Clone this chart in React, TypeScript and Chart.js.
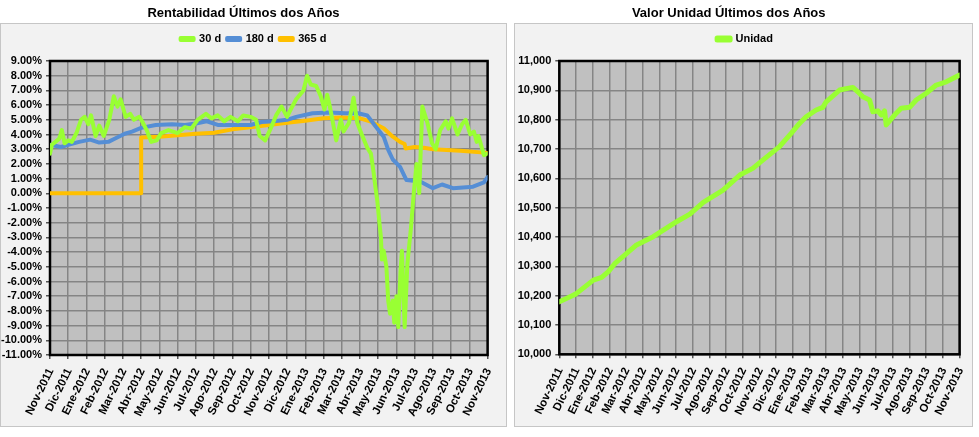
import React, { useEffect, useRef } from 'react';
import { Chart, registerables } from 'chart.js';

Chart.register(...registerables);

// ---------- DATA ----------
const monthLabels = [
  'Nov-2011', 'Dic-2011', 'Ene-2012', 'Feb-2012', 'Mar-2012', 'Abr-2012', 'May-2012',
  'Jun-2012', 'Jul-2012', 'Ago-2012', 'Sep-2012', 'Oct-2012', 'Nov-2012', 'Dic-2012',
  'Ene-2013', 'Feb-2013', 'Mar-2013', 'Abr-2013', 'May-2013', 'Jun-2013', 'Jul-2013',
  'Ago-2013', 'Sep-2013', 'Oct-2013', 'Nov-2013',
];

// position in months since Nov-2011, value in %
const r30X = [
  0.0, 0.1, 0.3, 0.5, 0.65, 0.8, 1.0, 1.2, 1.45, 1.7, 1.9, 2.1, 2.25, 2.5, 2.7, 2.95,
  3.25, 3.5, 3.7, 3.87, 4.15, 4.4, 4.6, 4.9, 5.05, 5.3, 5.55, 5.85, 6.1, 6.5, 7.0, 7.4,
  7.75, 8.1, 8.55, 8.85, 9.2, 9.55, 9.9, 10.3, 10.6, 11.0, 11.3, 11.5, 11.8, 12.1, 12.4,
  12.7, 13.0, 13.2, 13.5, 13.9, 14.1, 14.3, 14.6, 14.85, 15.05, 15.2, 15.35, 15.7, 15.95,
  16.1, 16.4, 16.65, 16.85, 17.1, 17.4, 17.6, 17.75, 17.85, 17.95, 18.05, 18.15, 18.2,
  18.3, 18.45, 18.55, 18.65, 18.8, 18.88, 19.0, 19.1, 19.22, 19.3, 19.45, 19.6, 19.8,
  19.95, 20.1, 20.25, 20.42, 20.7, 20.95, 21.15, 21.4, 21.7, 21.85, 22.05, 22.35, 22.6,
  22.8, 23.05, 23.25, 23.4, 23.5, 23.8, 24.0,
];
const r30Y = [
  2.7, 3.3, 3.5, 3.7, 4.3, 3.4, 3.6, 3.5, 4.1, 5.0, 5.2, 4.7, 5.3, 3.9, 4.6, 3.9,
  5.0, 6.6, 5.9, 6.4, 5.2, 5.4, 5.0, 5.2, 4.9, 4.3, 3.5, 3.6, 4.1, 4.3, 4.1, 4.5,
  4.4, 5.0, 5.4, 5.1, 5.3, 4.9, 5.2, 4.9, 5.3, 5.2, 5.0, 3.9, 3.6, 4.4, 5.3,
  5.9, 5.2, 5.7, 6.4, 7.0, 8.0, 7.4, 7.3, 6.6, 5.7, 6.7, 5.9, 3.6, 5.0,
  4.2, 4.8, 6.5, 4.8, 4.0, 3.1, 2.7, 1.4, 0.4, -0.5, -1.8, -3.0, -4.5,
  -3.9, -5.0, -7.3, -8.2, -7.3, -8.8, -7.0, -9.1, -5.4, -3.9, -9.1, -4.8, -2.3,
  0.0, 2.0, 0.0, 5.9, 4.8, 3.4, 3.0, 4.3, 4.9, 4.4, 5.1, 4.0, 4.7,
  5.0, 4.0, 4.2, 3.5, 3.9, 2.6, 2.7,
];

const r180X = [
  0, 0.6, 1.0, 1.6, 2.2, 2.7, 3.2, 3.6, 4.1, 4.5, 5.0, 5.8, 6.7, 7.4, 8.0, 8.6, 9.2,
  10.0, 11.0, 11.6, 12.3, 13.0, 13.5, 14.4, 15.3, 16.2, 16.9, 17.4, 17.8, 18.3, 18.55,
  18.8, 19.2, 19.45, 19.55, 20.3, 21.0, 21.5, 22.1, 23.2, 23.8, 24.0,
];
const r180Y = [
  3.3, 3.15, 3.3, 3.5, 3.65, 3.45, 3.5, 3.75, 4.05, 4.2, 4.45, 4.65, 4.7, 4.65, 4.75, 4.9, 4.65,
  4.65, 4.65, 4.85, 4.9, 5.0, 5.2, 5.45, 5.5, 5.45, 5.45, 5.3, 4.65, 3.85, 2.95,
  2.3, 1.8, 1.15, 0.9, 0.8, 0.35, 0.6, 0.35, 0.45, 0.75, 1.1,
];

const r365X = [
  0, 5.0, 5.0, 6.0, 7.0, 8.0, 9.0, 10.0, 11.0, 12.0, 13.0, 14.0, 15.0, 16.0, 17.0, 17.6,
  18.3, 18.8, 19.2, 19.45, 19.5, 20.0, 20.5, 21.0, 22.5, 24.0,
];
const r365Y = [
  0, 0, 3.8, 3.85, 3.95, 4.05, 4.12, 4.35, 4.5, 4.65, 4.8, 4.94, 5.1, 5.15, 5.1, 4.87,
  4.42, 3.85, 3.5, 3.35, 3.05, 3.15, 3.1, 3.0, 2.9, 2.75,
];

const unidadX = [
  0, 0.74, 1.0, 2.04, 2.54, 2.94, 3.34, 4.04, 4.63, 5.63, 7.03, 7.83, 8.63, 9.82, 10.82,
  11.6, 12.2, 13.2, 13.9, 14.4, 14.8, 15.4, 15.8, 16.0, 16.8, 17.6, 17.9, 18.2, 18.6,
  18.8, 19.1, 19.3, 19.5, 19.6, 20.2, 20.5, 21.0, 21.4, 22.0, 22.6, 23.2, 24.0,
];
const unidadY = [
  10179, 10199, 10206, 10253, 10262, 10282, 10310, 10344, 10373, 10401, 10452, 10478, 10518,
  10560, 10611, 10634, 10662, 10708, 10753, 10787, 10810, 10833, 10842, 10861, 10901, 10910,
  10895, 10878, 10867, 10827, 10830, 10816, 10830, 10782, 10822, 10839, 10842, 10867, 10890,
  10918, 10929, 10952,
];

// ---------- STYLE ----------
const GREEN = '#99ff33';
const BLUE = '#558ed5';
const ORANGE = '#ffc000';
const GRID = '#858585';
const FAMILY = '"Liberation Sans", Arial, Helvetica, sans-serif';
const tickFont = { family: FAMILY, size: 11, weight: 'bold' as const };
const xTickFont = { family: FAMILY, size: 11.5, weight: 'bold' as const };

const pairs = (xs: number[], ys: number[]) => xs.map((x, i) => ({ x, y: ys[i] }));

function panelPlugin(title: string, titleX: number, px0: number, px1: number) {
  return {
    id: 'panelDeco',
    beforeDraw(chart: any) {
      const ctx = chart.ctx;
      const a = chart.chartArea;
      ctx.save();
      ctx.fillStyle = '#ffffff';
      ctx.fillRect(0, 0, chart.width, chart.height);
      ctx.fillStyle = '#f2f2f2';
      ctx.fillRect(px0, 23, px1 - px0, 404);
      ctx.strokeStyle = '#c6c6c6';
      ctx.lineWidth = 1;
      ctx.strokeRect(px0 + 0.5, 23.5, px1 - px0 - 1, 403);
      ctx.fillStyle = '#000';
      ctx.font = `bold 13px ${FAMILY}`;
      ctx.textAlign = 'center';
      ctx.textBaseline = 'middle';
      ctx.fillText(title, titleX, 13);
      ctx.fillStyle = '#c0c0c0';
      ctx.fillRect(a.left, a.top, a.right - a.left, a.bottom - a.top);
      ctx.restore();
    },
    beforeDatasetsDraw(chart: any) {
      const ctx = chart.ctx;
      const a = chart.chartArea;
      ctx.save();
      ctx.strokeStyle = '#000';
      ctx.lineWidth = 2.5;
      ctx.strokeRect(a.left, a.top, a.right - a.left, a.bottom - a.top);
      ctx.restore();
    },
  };
}

function commonX() {
  return {
    type: 'linear',
    position: 'bottom',
    min: 0,
    max: 24,
    ticks: {
      stepSize: 1,
      autoSkip: false,
      minRotation: 64,
      maxRotation: 64,
      padding: 7,
      labelOffset: 1,
      color: '#000',
      font: xTickFont,
      callback: (v: any) => monthLabels[Math.round(Number(v))] ?? '',
    },
    grid: { color: GRID, lineWidth: 1.5, tickLength: 4, tickColor: '#555' },
    border: { display: false },
    afterFit: (s: any) => { s.height = 72; },
  };
}

const topSpacer = {
  type: 'linear',
  axis: 'x',
  position: 'top',
  display: true,
  ticks: { display: false },
  grid: { display: false },
  border: { display: false },
  afterFit: (s: any) => { s.height = 6.5; },
};

function rightSpacer(w: number) {
  return {
    type: 'linear',
    axis: 'y',
    position: 'right',
    display: true,
    ticks: { display: false },
    grid: { display: false },
    border: { display: false },
    afterFit: (s: any) => { s.width = w; },
  };
}

const legendOpts = {
  display: true,
  position: 'top',
  labels: {
    boxWidth: 13,
    boxHeight: 2,
    padding: 6,
    color: '#000',
    font: { family: FAMILY, size: 11, weight: 'bold' as const },
  },
};

function line(label: string, data: any[], color: string, width: number) {
  return {
    label,
    data,
    borderColor: color,
    backgroundColor: color,
    borderWidth: width,
    borderJoinStyle: 'round',
    borderCapStyle: 'round',
    pointRadius: 0,
    tension: 0,
    fill: false,
    xAxisID: 'x',
    yAxisID: 'y',
  };
}

function leftConfig(): any {
  return {
    type: 'line',
    data: {
      datasets: [
        line('30 d', pairs(r30X, r30Y), GREEN, 4),
        line('180 d', pairs(r180X, r180Y), BLUE, 4),
        line('365 d', pairs(r365X, r365Y), ORANGE, 4),
      ],
    },
    options: {
      responsive: false,
      animation: false,
      devicePixelRatio: 1,
      layout: { autoPadding: false, padding: { top: 27.5, left: 0, right: 0, bottom: 10 } },
      plugins: { title: { display: false }, legend: legendOpts, tooltip: { enabled: false } },
      scales: {
        x: commonX(),
        spacerTop: topSpacer,
        y: {
          type: 'linear',
          position: 'left',
          min: -11,
          max: 9,
          ticks: {
            stepSize: 1,
            autoSkip: false,
            padding: 4,
            color: '#000',
            font: tickFont,
            callback: (v: any) => Number(v).toFixed(2) + '%',
          },
          grid: { color: GRID, lineWidth: 1.5, tickLength: 4, tickColor: '#555' },
          border: { display: false },
          afterFit: (s: any) => { s.width = 50; },
        },
        spacerRight: rightSpacer(14),
      },
    },
    plugins: [panelPlugin('Rentabilidad Últimos dos Años', 243.5, 0, 507)],
  };
}

function rightConfig(): any {
  return {
    type: 'line',
    data: {
      datasets: [line('Unidad', pairs(unidadX, unidadY), GREEN, 5)],
    },
    options: {
      responsive: false,
      animation: false,
      devicePixelRatio: 1,
      layout: { autoPadding: false, padding: { top: 27.5, left: 5, right: 1, bottom: 10.7 } },
      plugins: { title: { display: false }, legend: legendOpts, tooltip: { enabled: false } },
      scales: {
        x: commonX(),
        spacerTop: topSpacer,
        y: {
          type: 'linear',
          position: 'left',
          min: 10000,
          max: 11000,
          ticks: {
            stepSize: 100,
            autoSkip: false,
            padding: 4,
            color: '#000',
            font: tickFont,
            callback: (v: any) => Number(v).toLocaleString('en-US'),
          },
          grid: { color: GRID, lineWidth: 1.5, tickLength: 4, tickColor: '#555' },
          border: { display: false },
          afterFit: (s: any) => { s.width = 47.3; },
        },
        spacerRight: rightSpacer(17.3),
      },
    },
    plugins: [panelPlugin('Valor Unidad Últimos dos Años', 221.7, 7, 466)],
  };
}

function ChartCanvas({ make, width, height }: { make: () => any; width: number; height: number }) {
  const ref = useRef<HTMLCanvasElement | null>(null);
  useEffect(() => {
    if (!ref.current) return;
    const chart = new Chart(ref.current, make());
    return () => chart.destroy();
  }, [make]);
  return <canvas ref={ref} width={width} height={height} style={{ display: 'block', width, height }} />;
}

export default function App() {
  return (
    <div style={{ position: 'absolute', left: 0, top: 0, width: 979, height: 437, background: '#fff', overflow: 'hidden' }}>
      <div style={{ position: 'absolute', left: 0, top: 0 }}>
        <ChartCanvas make={leftConfig} width={507} height={437} />
      </div>
      <div style={{ position: 'absolute', left: 507, top: 0 }}>
        <ChartCanvas make={rightConfig} width={472} height={437} />
      </div>
    </div>
  );
}
